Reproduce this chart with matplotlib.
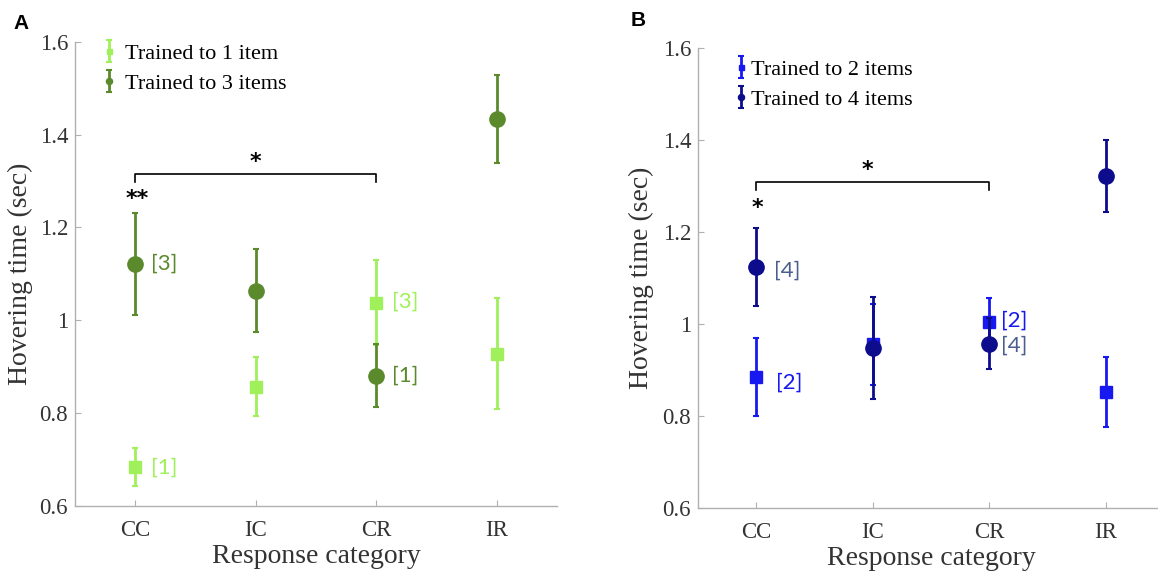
import matplotlib
matplotlib.use("Agg")
import matplotlib.pyplot as plt

categories = ["CC", "IC", "CR", "IR"]

# Panel A
a1_mean = [0.683, 0.857, 1.038, 0.928]
a1_err = [0.041, 0.063, 0.092, 0.119]
a3_mean = [1.121, 1.064, 0.881, 1.433]
a3_err = [0.109, 0.090, 0.068, 0.095]
a_labels_1 = [(0, 0.683, "[1]"), (2, 1.040, "[3]")]
a_labels_3 = [(0, 1.121, "[3]"), (2, 0.881, "[1]")]

# Panel B
b2_mean = [0.885, 0.956, 1.004, 0.852]
b2_err = [0.085, 0.088, 0.052, 0.076]
b4_mean = [1.124, 0.948, 0.957, 1.322]
b4_err = [0.084, 0.111, 0.055, 0.078]
b_labels_2 = [(0, 0.872, "[2]"), (2, 1.008, "[2]")]
b_labels_4 = [(0, 1.116, "[4]"), (2, 0.953, "[4]")]

light_green = "#9ff05a"
dark_green = "#5b8a2d"
blue = "#1818f0"
navy = "#0c0c8c"
slate = "#4a5f8f"

plt.rcParams["font.family"] = ["Liberation Serif", "DejaVu Serif"]

fig = plt.figure(figsize=(11.58, 5.75), dpi=100)
axA = fig.add_axes([0.0648, 0.1200, 0.4162, 0.8075])
axB = fig.add_axes([0.6028, 0.1165, 0.4024, 0.8000])

x = list(range(1, len(categories) + 1))


def style(ax, ylab_x):
    ax.set_xlim(0.5, 4.5)
    ax.set_ylim(0.6, 1.6)
    ax.set_xticks(x)
    ax.set_xticklabels(categories)
    ax.set_yticks([0.6, 0.8, 1.0, 1.2, 1.4, 1.6])
    ax.set_yticklabels(["0.6", "0.8", "1", "1.2", "1.4", "1.6"])
    for s in ["top", "right"]:
        ax.spines[s].set_visible(False)
    for s in ["left", "bottom"]:
        ax.spines[s].set_color("#b0b0b0")
        ax.spines[s].set_linewidth(1.0)
    ax.tick_params(direction="in", length=4, color="#b0b0b0", labelsize=16.5,
                   labelcolor="#333333")
    ax.tick_params(axis="x", pad=10)
    ax.tick_params(axis="y", pad=5)
    ax.set_xlabel("Response category", fontsize=20, color="#333333", labelpad=2)
    ax.set_ylabel("Hovering time (sec)", fontsize=20, color="#333333")
    ax.yaxis.set_label_coords(ylab_x, 0.5)


sans = ["Lato", "DejaVu Sans"]
star_font = ["DejaVu Sans"]

# ---- Panel A
eA1 = axA.errorbar(x, a1_mean, yerr=a1_err, fmt="s", color=light_green, ms=9,
                   lw=2, capsize=2, capthick=1.5, label="Trained to 1 item", zorder=3)
eA3 = axA.errorbar(x, a3_mean, yerr=a3_err, fmt="o", color=dark_green, ms=11,
                   lw=2, capsize=2, capthick=1.5, label="Trained to 3 items", zorder=4)
for i, y, t in a_labels_1:
    axA.text(x[i] + 0.13, y, t, color=light_green, fontsize=16, family=sans,
             va="center", ha="left")
for i, y, t in a_labels_3:
    axA.text(x[i] + 0.13, y, t, color=dark_green, fontsize=16, family=sans,
             va="center", ha="left")
axA.plot([1, 1, 3, 3], [1.297, 1.315, 1.315, 1.297], color="black", lw=1.2)
axA.text(2.0, 1.340, "*", fontsize=16, family=star_font, fontweight="bold",
         ha="center", va="center")
axA.text(1.02, 1.262, "**", fontsize=16, family=star_font, fontweight="bold",
         ha="center", va="center")
style(axA, -0.087)
axA.legend(handles=[eA1, eA3], loc="upper left", bbox_to_anchor=(0.057, 0.996),
           borderaxespad=0, borderpad=0, frameon=False, fontsize=16,
           markerscale=0.4, handlelength=0.6, handletextpad=0.43, labelspacing=0.42)

# ---- Panel B
eB2 = axB.errorbar(x, b2_mean, yerr=b2_err, fmt="s", color=blue, ms=9,
                   lw=2, capsize=2, capthick=1.5, label="Trained to 2 items", zorder=3)
eB4 = axB.errorbar(x, b4_mean, yerr=b4_err, fmt="o", color=navy, ms=11,
                   lw=2, capsize=2, capthick=1.5, label="Trained to 4 items", zorder=4)
for i, y, t in b_labels_2:
    dx = 0.17 if i == 0 else 0.1
    axB.text(x[i] + dx, y, t, color=blue, fontsize=16, family=sans,
             va="center", ha="left")
for i, y, t in b_labels_4:
    dx = 0.155 if i == 0 else 0.1
    axB.text(x[i] + dx, y, t, color=slate, fontsize=16, family=sans,
             va="center", ha="left")
axB.plot([1, 1, 3, 3], [1.291, 1.308, 1.308, 1.291], color="black", lw=1.2)
axB.text(1.95, 1.334, "*", fontsize=16, family=star_font, fontweight="bold",
         ha="center", va="center")
axB.text(1.01, 1.252, "*", fontsize=16, family=star_font, fontweight="bold",
         ha="center", va="center")
style(axB, -0.094)
axB.legend(handles=[eB2, eB4], loc="upper left", bbox_to_anchor=(0.083, 0.975),
           borderaxespad=0, borderpad=0, frameon=False, fontsize=16,
           markerscale=0.4, handlelength=0.4, handletextpad=0.25, labelspacing=0.42)

fig.text(0.012, 0.95, "A", fontsize=15, fontweight="bold",
         family=["Liberation Sans", "DejaVu Sans"])
fig.text(0.545, 0.955, "B", fontsize=15, fontweight="bold",
         family=["Liberation Sans", "DejaVu Sans"])

fig.savefig("out.png", dpi=100)
